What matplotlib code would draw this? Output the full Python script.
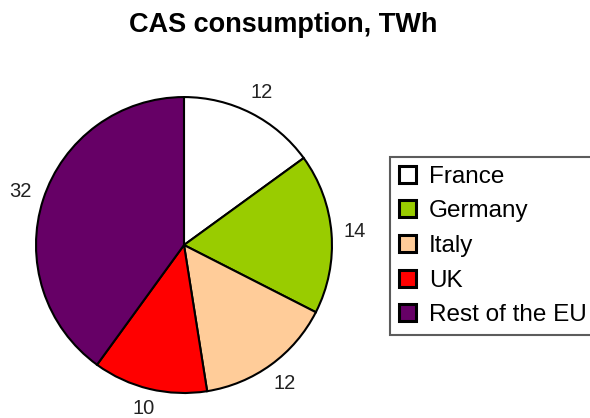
import matplotlib
matplotlib.use("Agg")
import matplotlib.pyplot as plt
from matplotlib.patches import Patch

categories = ["France", "Germany", "Italy", "UK", "Rest of the EU"]
values = [12, 14, 12, 10, 32]
colors = ["#FFFFFF", "#99CC00", "#FFCC99", "#FF0000", "#660066"]
title = "CAS consumption, TWh"

plt.rcParams['font.family'] = ['Liberation Sans', 'DejaVu Sans']

fig = plt.figure(figsize=(5.9, 4.18), dpi=100)
ax = fig.add_axes([0.061, 0.0598, 0.5017, 0.708])
wedges, texts = ax.pie(values, colors=colors, startangle=90, counterclock=False,
                       labels=[str(v) for v in values], labeldistance=1.16,
                       wedgeprops=dict(edgecolor="black", linewidth=1.5),
                       textprops=dict(fontsize=14.5, color="#222222"))
for t in texts:
    t.set_ha("center")
    t.set_va("center")
# keep the bottom label inside the canvas
x, y = texts[3].get_position()
texts[3].set_position((x, y + 0.02))
ax.set_xlim(-1, 1)
ax.set_ylim(-1, 1)
ax.set_aspect("equal")
ax.axis("off")

fig.text(0.48, 0.94, title, ha="center", va="center", fontsize=19.5, fontweight="bold")

handles = [Patch(facecolor=c, edgecolor="black", linewidth=2.2) for c in colors]
leg = fig.legend(handles, categories, loc="upper left",
                 bbox_to_anchor=(390 / 590, 1 - 157 / 418),
                 fontsize=17.5, frameon=True, fancybox=False,
                 handlelength=0.7, handleheight=0.7, handletextpad=0.55,
                 labelspacing=0.52, borderpad=0.36, borderaxespad=0)
leg.get_frame().set_edgecolor("#333333")
leg.get_frame().set_linewidth(1.5)

fig.savefig("out.png", dpi=100)
